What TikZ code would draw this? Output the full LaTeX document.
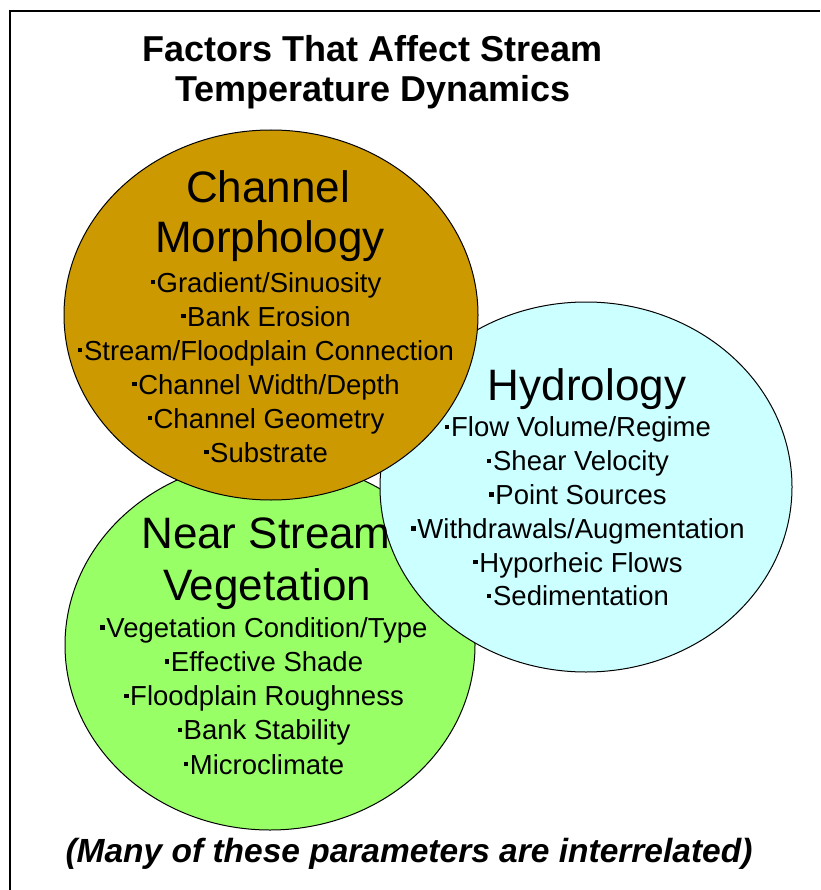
\documentclass[tikz,border=0pt]{standalone}
\usepackage{fontspec}
\setmainfont{Liberation Sans}
\usepackage{tikz}

\definecolor{morphbrown}{RGB}{204,153,0}
\definecolor{vegegreen}{RGB}{153,255,102}
\definecolor{hydrocyan}{RGB}{204,255,255}
\newcommand{\bul}{\rule[0.28em]{0.16em}{0.16em}\kern0.06em}

\begin{document}
\begin{tikzpicture}[x=1pt,y=-1pt,
	title/.style={anchor=base,font=\fontsize{36}{40}\selectfont\bfseries},
	heading/.style={anchor=base,font=\fontsize{44}{50}\selectfont},
	item/.style={anchor=base,font=\fontsize{27.5}{34}\selectfont}]
	\useasboundingbox (0,0) rectangle (820,890);
	
	% frame
	\draw[line width=2pt] (10,890) -- (10,11) -- (820,11);
	
	% title
	\node[title] (title1) at (373,62) {Factors That Affect Stream};
	\node[title] (title2) at (373,102) {Temperature Dynamics};
	
	% the three ellipses
	\draw[fill=vegegreen,line width=1pt] (270,645) ellipse (205pt and 185pt);
	\draw[fill=hydrocyan,line width=1pt] (586,487) ellipse (206pt and 185pt);
	\draw[fill=morphbrown,line width=1pt] (271,315) ellipse (207pt and 185pt);
	
	% channel morphology
	\node[heading] (chan1) at (268,203) {Channel};
	\node[heading] (chan2) at (270,253) {Morphology};
	\foreach \t [count=\i] in {Gradient/Sinuosity, Bank Erosion,
		Stream/Floodplain Connection, Channel Width/Depth,
		Channel Geometry, Substrate}
	\node[item] (chan-\i) at (266,258+34*\i) {\bul\t};
	
	% hydrology
	\node[heading] (hydro) at (587,400) {Hydrology};
	\foreach \t [count=\i] in {Flow Volume/Regime, Shear Velocity,
		Point Sources, Withdrawals/Augmentation,
		Hyporheic Flows, Sedimentation}
	\node[item] (hydro-\i) at (578,403+33.8*\i) {\bul\t};
	
	% near stream vegetation
	\node[heading] (veg1) at (266,548) {Near Stream};
	\node[heading] (veg2) at (267,600) {Vegetation};
	\foreach \t [count=\i] in {Vegetation Condition/Type, Effective Shade,
		Floodplain Roughness, Bank Stability, Microclimate}
	\node[item] (veg-\i) at (264,603+34.2*\i) {\bul\t};
	
	% note
	\node[anchor=base,font=\fontsize{33.5}{36}\selectfont\bfseries\itshape] (note) at (409,862) {(Many of these parameters are interrelated)};
	
\end{tikzpicture}
\end{document}
